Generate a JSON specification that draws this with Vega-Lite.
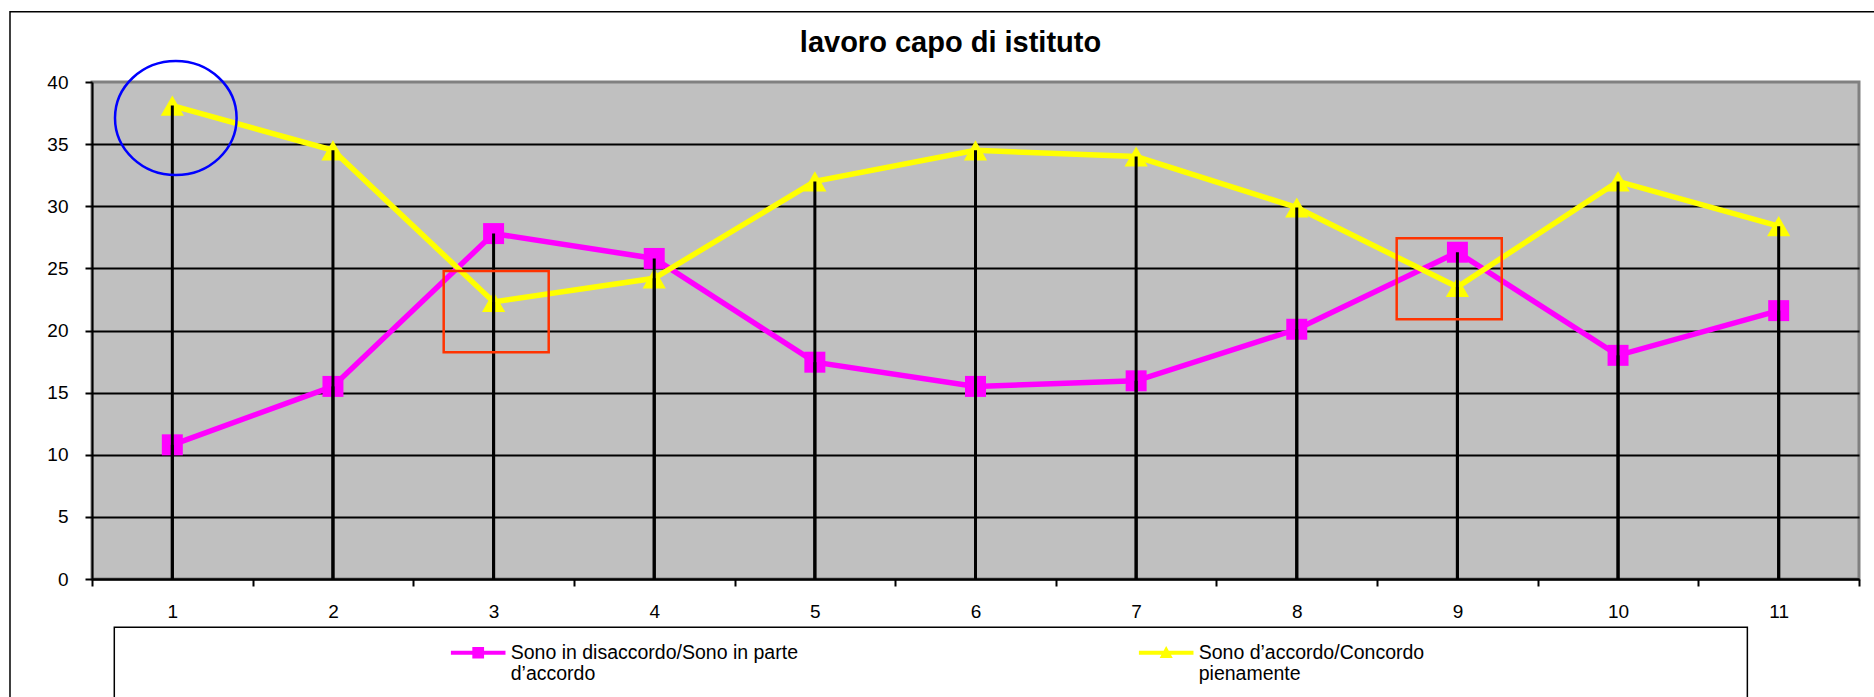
{
  "$schema": "https://vega.github.io/schema/vega-lite/v6.json",
  "width": 1767,
  "height": 497,
  "autosize": {"type": "none"},
  "padding": {"left": 92, "top": 82, "right": 15, "bottom": 118},
  "background": "white",
  "config": {
    "font": "Liberation Sans",
    "view": {"fill": "#C0C0C0", "stroke": "#808080", "strokeWidth": 3}
  },
  "title": {
    "text": "lavoro capo di istituto",
    "fontSize": 29,
    "fontWeight": "bold",
    "font": "Liberation Sans",
    "color": "black",
    "anchor": "middle",
    "frame": "group",
    "baseline": "alphabetic",
    "offset": -70.5,
    "dx": -25
  },
  "datasets": {
    "main": [
      {"cat": 1, "series": "Sono in disaccordo/Sono in parte d’accordo", "value": 10.8},
      {"cat": 2, "series": "Sono in disaccordo/Sono in parte d’accordo", "value": 15.5},
      {"cat": 3, "series": "Sono in disaccordo/Sono in parte d’accordo", "value": 27.8},
      {"cat": 4, "series": "Sono in disaccordo/Sono in parte d’accordo", "value": 25.8},
      {"cat": 5, "series": "Sono in disaccordo/Sono in parte d’accordo", "value": 17.45},
      {"cat": 6, "series": "Sono in disaccordo/Sono in parte d’accordo", "value": 15.5},
      {"cat": 7, "series": "Sono in disaccordo/Sono in parte d’accordo", "value": 15.95},
      {"cat": 8, "series": "Sono in disaccordo/Sono in parte d’accordo", "value": 20.1},
      {"cat": 9, "series": "Sono in disaccordo/Sono in parte d’accordo", "value": 26.3},
      {"cat": 10, "series": "Sono in disaccordo/Sono in parte d’accordo", "value": 18.0},
      {"cat": 11, "series": "Sono in disaccordo/Sono in parte d’accordo", "value": 21.6},
      {"cat": 1, "series": "Sono d’accordo/Concordo pienamente", "value": 38.1},
      {"cat": 2, "series": "Sono d’accordo/Concordo pienamente", "value": 34.5},
      {"cat": 3, "series": "Sono d’accordo/Concordo pienamente", "value": 22.3},
      {"cat": 4, "series": "Sono d’accordo/Concordo pienamente", "value": 24.2},
      {"cat": 5, "series": "Sono d’accordo/Concordo pienamente", "value": 32.0},
      {"cat": 6, "series": "Sono d’accordo/Concordo pienamente", "value": 34.5},
      {"cat": 7, "series": "Sono d’accordo/Concordo pienamente", "value": 34.0},
      {"cat": 8, "series": "Sono d’accordo/Concordo pienamente", "value": 29.9},
      {"cat": 9, "series": "Sono d’accordo/Concordo pienamente", "value": 23.5},
      {"cat": 10, "series": "Sono d’accordo/Concordo pienamente", "value": 32.0},
      {"cat": 11, "series": "Sono d’accordo/Concordo pienamente", "value": 28.4}
    ]
  },
  "data": {"name": "main"},
  "encoding": {
    "x": {
      "field": "cat",
      "type": "quantitative",
      "scale": {"domain": [0.5, 11.5], "nice": false, "zero": false},
      "axis": {
        "title": null,
        "values": [0.5, 1, 1.5, 2, 2.5, 3, 3.5, 4, 4.5, 5, 5.5, 6, 6.5, 7, 7.5, 8, 8.5, 9, 9.5, 10, 10.5, 11, 11.5],
        "labelExpr": "datum.value % 1 === 0 ? format(datum.value, 'd') : ''",
        "grid": false,
        "domainColor": "black",
        "domainWidth": 2,
        "tickColor": {"condition": {"test": "datum.value % 1 === 0", "value": "transparent"}, "value": "black"},
        "tickWidth": 2,
        "tickSize": 7,
        "labelFont": "Liberation Sans",
        "labelFontSize": 19,
        "labelColor": "black",
        "labelPadding": 16,
        "labelOverlap": false,
        "labelBound": false,
        "labelFlush": false
      }
    },
    "y": {
      "field": "value",
      "type": "quantitative",
      "scale": {"domain": [0, 40], "nice": false, "zero": true},
      "axis": {
        "title": null,
        "values": [0, 5, 10, 15, 20, 25, 30, 35, 40],
        "grid": true,
        "gridColor": {"condition": {"test": "datum.value >= 40", "value": "transparent"}, "value": "black"},
        "gridWidth": 2,
        "gridOpacity": 1,
        "domainColor": "black",
        "domainWidth": 2,
        "tickColor": "black",
        "tickWidth": 2,
        "tickSize": 7,
        "labelFont": "Liberation Sans",
        "labelFontSize": 19,
        "labelColor": "black",
        "labelPadding": 17,
        "labelOverlap": false,
        "labelBound": false,
        "labelFlush": false
      }
    }
  },
  "layer": [
    {
      "transform": [{"filter": "datum.cat === 1 && datum.value > 30"}],
      "mark": {"type": "rect", "fill": "transparent", "stroke": "black", "strokeWidth": 1.5},
      "encoding": {
        "x": {"datum": -0.0105, "type": "quantitative"},
        "x2": {"datum": 11.8},
        "y": {"datum": 45.66, "type": "quantitative"},
        "y2": {"datum": -12}
      }
    },
    {
      "transform": [{"filter": "datum.cat === 1 && datum.value > 30"}],
      "mark": {"type": "rect", "fill": "white", "stroke": "black", "strokeWidth": 1.5},
      "encoding": {
        "x": {"datum": 0.6388, "type": "quantitative"},
        "x2": {"datum": 10.805},
        "y": {"datum": -3.887, "type": "quantitative"},
        "y2": {"datum": -12}
      }
    },
    {
      "transform": [{"filter": {"field": "series", "equal": "Sono in disaccordo/Sono in parte d’accordo"}}],
      "mark": {"type": "line", "color": "#FF00FF", "strokeWidth": 5.5}
    },
    {
      "transform": [{"filter": {"field": "series", "equal": "Sono in disaccordo/Sono in parte d’accordo"}}],
      "mark": {"type": "point", "shape": "square", "filled": true, "color": "#FF00FF", "size": 440, "opacity": 1}
    },
    {
      "transform": [{"filter": {"field": "series", "equal": "Sono d’accordo/Concordo pienamente"}}],
      "mark": {"type": "line", "color": "#FFFF00", "strokeWidth": 5.5}
    },
    {
      "transform": [{"filter": {"field": "series", "equal": "Sono d’accordo/Concordo pienamente"}}],
      "mark": {"type": "point", "shape": "triangle-up", "filled": true, "color": "#FFFF00", "size": 540, "opacity": 1}
    },
    {
      "mark": {"type": "rule", "color": "black", "strokeWidth": 3},
      "encoding": {"y2": {"datum": 0}}
    },
    {
      "transform": [{"filter": "datum.cat === 3 && datum.value < 25"}],
      "mark": {"type": "rect", "fill": "transparent", "stroke": "#FF3300", "strokeWidth": 2.5},
      "encoding": {
        "x": {"datum": 2.6894, "type": "quantitative"},
        "x2": {"datum": 3.3431},
        "y": {"datum": 24.79, "type": "quantitative"},
        "y2": {"datum": 18.25}
      }
    },
    {
      "transform": [{"filter": "datum.cat === 9 && datum.value < 25"}],
      "mark": {"type": "rect", "fill": "transparent", "stroke": "#FF3300", "strokeWidth": 2.5},
      "encoding": {
        "x": {"datum": 8.622, "type": "quantitative"},
        "x2": {"datum": 9.276},
        "y": {"datum": 27.42, "type": "quantitative"},
        "y2": {"datum": 20.9}
      }
    },
    {
      "transform": [{"filter": "datum.cat === 1 && datum.value > 30"}],
      "mark": {"type": "point", "shape": "M-1,0A1,0.9375,0,1,1,1,0A1,0.9375,0,1,1,-1,0Z", "filled": false, "stroke": "#0000FF", "strokeWidth": 2.5, "size": 14787, "opacity": 1},
      "encoding": {
        "x": {"datum": 1.0217, "type": "quantitative"},
        "y": {"datum": 37.1, "type": "quantitative"}
      }
    },
    {
      "transform": [{"filter": "false"}],
      "mark": {"type": "point", "filled": true, "opacity": 1},
      "encoding": {
        "color": {
          "field": "series",
          "type": "nominal",
          "scale": {"domain": ["Sono in disaccordo/Sono in parte d’accordo", "Sono d’accordo/Concordo pienamente"], "range": ["#FF00FF", "#FFFF00"]},
          "legend": {
            "orient": "none",
            "legendX": 358.7,
            "legendY": 543,
            "direction": "horizontal",
            "title": null,
            "symbolSize": 2980,
            "symbolStrokeWidth": 0,
            "symbolOpacity": 1,
            "labelFont": "Liberation Sans",
            "labelFontSize": 19.5,
            "labelColor": "black",
            "labelLimit": 600,
            "labelOffset": 5,
            "columnPadding": 340,
            "padding": 0,
            "labelExpr": "datum.label == 'Sono in disaccordo/Sono in parte d’accordo' ? ['Sono in disaccordo/Sono in parte', 'd’accordo'] : ['Sono d’accordo/Concordo', 'pienamente']"
          }
        },
        "shape": {
          "field": "series",
          "type": "nominal",
          "scale": {"domain": ["Sono in disaccordo/Sono in parte d’accordo", "Sono d’accordo/Concordo pienamente"], "range": ["M-1,-0.075H1V0.075H-1Z M-0.215,-0.215H0.215V0.215H-0.215Z", "M-1,-0.075H1V0.075H-1Z M0,-0.25L0.24,0.19H-0.24Z"]},
          "legend": {
            "orient": "none",
            "legendX": 358.7,
            "legendY": 543,
            "direction": "horizontal",
            "title": null,
            "symbolSize": 2980,
            "symbolStrokeWidth": 0,
            "symbolOpacity": 1,
            "labelFont": "Liberation Sans",
            "labelFontSize": 19.5,
            "labelColor": "black",
            "labelLimit": 600,
            "labelOffset": 5,
            "columnPadding": 340,
            "padding": 0,
            "labelExpr": "datum.label == 'Sono in disaccordo/Sono in parte d’accordo' ? ['Sono in disaccordo/Sono in parte', 'd’accordo'] : ['Sono d’accordo/Concordo', 'pienamente']"
          }
        }
      }
    }
  ]
}
